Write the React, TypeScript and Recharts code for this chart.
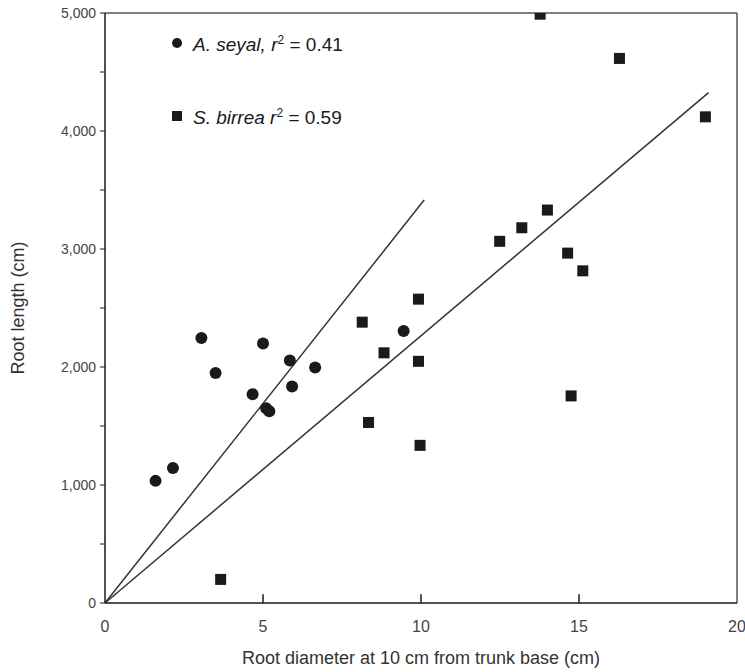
import React from "react";
import { ScatterChart, Scatter, XAxis, YAxis, ReferenceLine, Legend } from "recharts";

// A. seyal (circles)
const seyalPoints = [
  { x: 1.6, y: 1035 },
  { x: 2.15, y: 1145 },
  { x: 3.05, y: 2245 },
  { x: 3.5, y: 1950 },
  { x: 4.67, y: 1770 },
  { x: 5.0, y: 2200 },
  { x: 5.1, y: 1650 },
  { x: 5.2, y: 1625 },
  { x: 5.85, y: 2055 },
  { x: 5.92, y: 1835 },
  { x: 6.65, y: 1995 },
  { x: 9.45, y: 2305 },
];

// S. birrea (squares)
const birreaPoints = [
  { x: 3.66, y: 200 },
  { x: 8.14, y: 2380 },
  { x: 8.34, y: 1530 },
  { x: 8.83, y: 2120 },
  { x: 9.92, y: 2575 },
  { x: 9.92, y: 2048 },
  { x: 9.97, y: 1336 },
  { x: 12.49, y: 3065 },
  { x: 13.19, y: 3180 },
  { x: 13.77, y: 4990 },
  { x: 14.0, y: 3330 },
  { x: 14.64, y: 2965 },
  { x: 14.75, y: 1755 },
  { x: 15.12, y: 2815 },
  { x: 16.28, y: 4615 },
  { x: 19.0, y: 4120 },
];

// regression lines through the origin (end points)
const seyalFit = [{ x: 0, y: 0 }, { x: 10.1, y: 3415 }];
const birreaFit = [{ x: 0, y: 0 }, { x: 19.1, y: 4325 }];

const xTicks = [0, 5, 10, 15, 20];
const xInnerTicks = [5, 10, 15];
const yTicks = [0, 500, 1000, 1500, 2000, 2500, 3000, 3500, 4000, 4500, 5000];

const INK = "#1a1a1a";
const FONT = "'Liberation Sans', Arial, sans-serif";

const CircleDot = (props: any) => <circle cx={props.cx} cy={props.cy} r={6} fill={INK} />;
const SquareDot = (props: any) => (
  <rect x={props.cx - 5.5} y={props.cy - 5.5} width={11} height={11} fill={INK} />
);

const LegendBox = () => (
  <div style={{ fontFamily: FONT, fontSize: 19, color: INK, lineHeight: "22px" }}>
    <div style={{ display: "flex", alignItems: "center", height: 26 }}>
      <svg width={14} height={14} style={{ marginRight: 9 }}>
        <circle cx={7} cy={7} r={5} fill={INK} />
      </svg>
      <span>
        <i>A. seyal, r</i>
        <sup style={{ fontSize: 12 }}>2</sup> = 0.41
      </span>
    </div>
    <div style={{ display: "flex", alignItems: "center", height: 26, marginTop: 47 }}>
      <svg width={14} height={14} style={{ marginRight: 9 }}>
        <rect x={2} y={2} width={10} height={10} fill={INK} />
      </svg>
      <span>
        <i>S. birrea r</i>
        <sup style={{ fontSize: 12 }}>2</sup> = 0.59
      </span>
    </div>
  </div>
);

export default function App() {
  return (
    <div style={{ position: "absolute", left: 0, top: 0, width: 745, height: 672, background: "#fff" }}>
      <ScatterChart width={745} height={672} margin={{ top: 13, right: 8, left: 0, bottom: 0 }}>
        <XAxis
          type="number"
          dataKey="x"
          domain={[0, 20]}
          ticks={xTicks}
          allowDataOverflow
          height={69}
          tickSize={0}
          tickMargin={18}
          tickLine={false}
          tick={{ fill: "#444", fontSize: 16, fontFamily: FONT }}
          axisLine={{ stroke: INK, strokeWidth: 1.5 }}
          label={{
            value: "Root diameter at 10 cm from trunk base (cm)",
            position: "insideBottom",
            offset: 8,
            fill: "#333",
            fontSize: 18,
            fontFamily: FONT,
          }}
        />
        <YAxis
          type="number"
          dataKey="y"
          domain={[0, 5000]}
          ticks={yTicks}
          allowDataOverflow
          width={105}
          tickSize={5}
          tickMargin={4}
          tickLine={{ stroke: INK }}
          axisLine={{ stroke: INK, strokeWidth: 1.5 }}
          tick={{ fill: "#444", fontSize: 14, fontFamily: FONT }}
          tickFormatter={(v: number) => (v % 1000 === 0 ? v.toLocaleString("en-US") : "")}
          label={{
            value: "Root length (cm)",
            angle: -90,
            position: "insideLeft",
            offset: 18,
            fill: "#333",
            fontSize: 18,
            fontFamily: FONT,
            style: { textAnchor: "middle" },
          }}
        />
        <ReferenceLine y={5000} stroke="#555" strokeWidth={1.5} />
        <ReferenceLine x={20} stroke="#555" strokeWidth={1.5} />
        {/* inward tick marks on the x axis */}
        {xInnerTicks.map((t) => (
          <ReferenceLine
            key={t}
            segment={[{ x: t, y: 0 }, { x: t, y: 75 }]}
            stroke={INK}
            strokeWidth={1.5}
          />
        ))}
        <ReferenceLine segment={seyalFit} stroke="#333" strokeWidth={1.5} />
        <ReferenceLine segment={birreaFit} stroke="#333" strokeWidth={1.5} />
        <Scatter name="A. seyal" data={seyalPoints} shape={<CircleDot />} isAnimationActive={false} />
        <Scatter name="S. birrea" data={birreaPoints} shape={<SquareDot />} isAnimationActive={false} />
        <Legend
          layout="horizontal"
          verticalAlign="middle"
          align="center"
          content={<LegendBox />}
          wrapperStyle={{ position: "absolute", left: 170, top: 30, width: 260 }}
        />
      </ScatterChart>
    </div>
  );
}
